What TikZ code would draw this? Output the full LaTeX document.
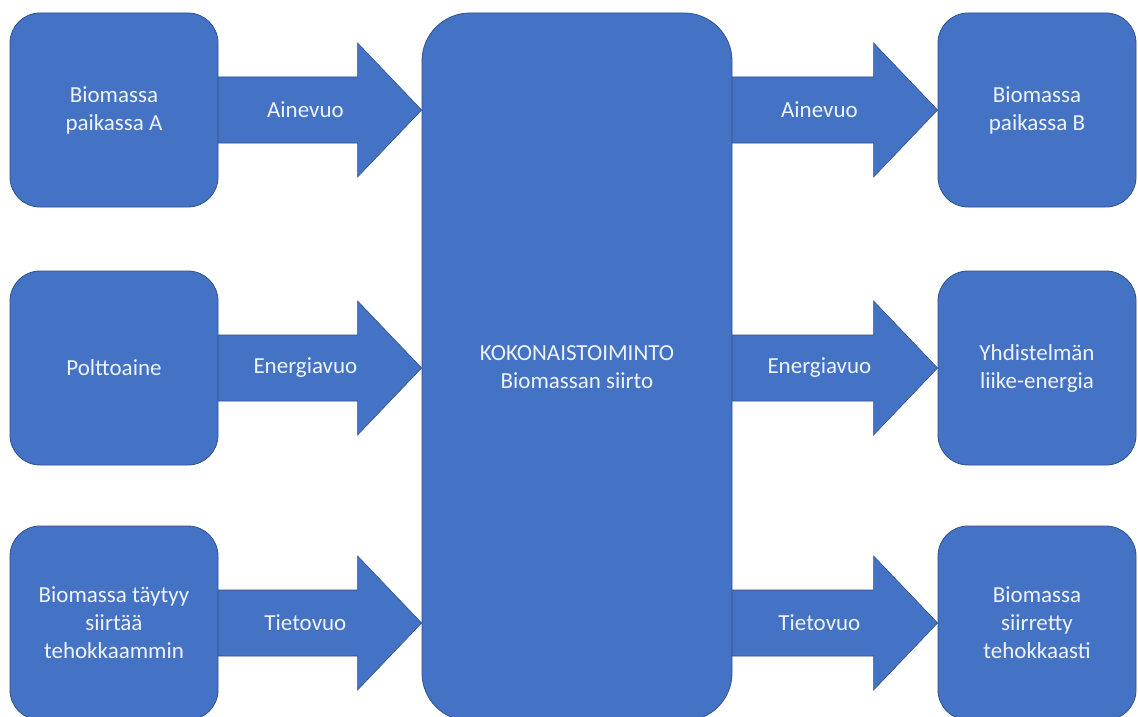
\documentclass[tikz,border=0pt]{standalone}
\usepackage{fontspec}
\setmainfont{Carlito}
\usetikzlibrary{calc}
\definecolor{boxblue}{HTML}{4472C4}
\definecolor{edgeblue}{HTML}{2F528F}
\definecolor{txtwhite}{HTML}{EEF3FB}
\tikzset{
  txt/.style={text=txtwhite, align=center, font=\fontsize{23}{28}\selectfont},
  box/.style={txt, draw=edgeblue, line width=0.8pt, fill=boxblue, rounded corners=30pt,
    minimum width=208pt, minimum height=194pt, inner sep=2pt},
  rbox/.style={box, minimum width=198pt},
  bigbox/.style={box, minimum width=310pt, minimum height=708pt, rounded corners=48pt},
  arrowfill/.style={fill=boxblue, draw=edgeblue, line width=0.6pt, line join=miter},
  flowlabel/.style={txt, inner sep=0pt}
}
\newcommand\flowarrow[3]{%
  \filldraw[arrowfill] ($(#1)+(0,-33)$) -- ($(#2)+(-64,-33)$) -- ($(#2)+(-64,-67)$) -- (#2)
    -- ($(#2)+(-64,67)$) -- ($(#2)+(-64,33)$) -- ($(#1)+(0,33)$) -- cycle;
  \node[flowlabel] (#1-lab) at ($(#1)+(87,0)$) {#3};}
\begin{document}
\begin{tikzpicture}[x=1pt,y=-1pt]
\clip (0,0) rectangle (1138,717);
\fill[white] (0,0) rectangle (1138,717);
% boxes
\node[box] (a1) at (114,110) {Biomassa\\paikassa A};
\node[box] (a2) at (114,368) {Polttoaine};
\node[box] (a3) at (114,623) {Biomassa täytyy\\siirtää\\tehokkaammin};
\node[bigbox] (c) at (577,367) {KOKONAISTOIMINTO\\Biomassan siirto};
\node[rbox] (b1) at (1037,110) {Biomassa\\paikassa B};
\node[rbox] (b2) at (1037,368) {Yhdistelmän\\liike-energia};
\node[rbox] (b3) at (1037,623) {Biomassa\\siirretty\\tehokkaasti};
% anchor coordinates
\coordinate (s1) at (a1.east); \coordinate (t1) at (c.west |- a1.east);
\coordinate (s2) at (a2.east); \coordinate (t2) at (c.west |- a2.east);
\coordinate (s3) at (a3.east); \coordinate (t3) at (c.west |- a3.east);
\coordinate (s4) at (c.east |- b1.west); \coordinate (t4) at (b1.west);
\coordinate (s5) at (c.east |- b2.west); \coordinate (t5) at (b2.west);
\coordinate (s6) at (c.east |- b3.west); \coordinate (t6) at (b3.west);
% arrows
\flowarrow{s1}{t1}{Ainevuo}
\flowarrow{s2}{t2}{Energiavuo}
\flowarrow{s3}{t3}{Tietovuo}
\flowarrow{s4}{t4}{Ainevuo}
\flowarrow{s5}{t5}{Energiavuo}
\flowarrow{s6}{t6}{Tietovuo}
\end{tikzpicture}
\end{document}
